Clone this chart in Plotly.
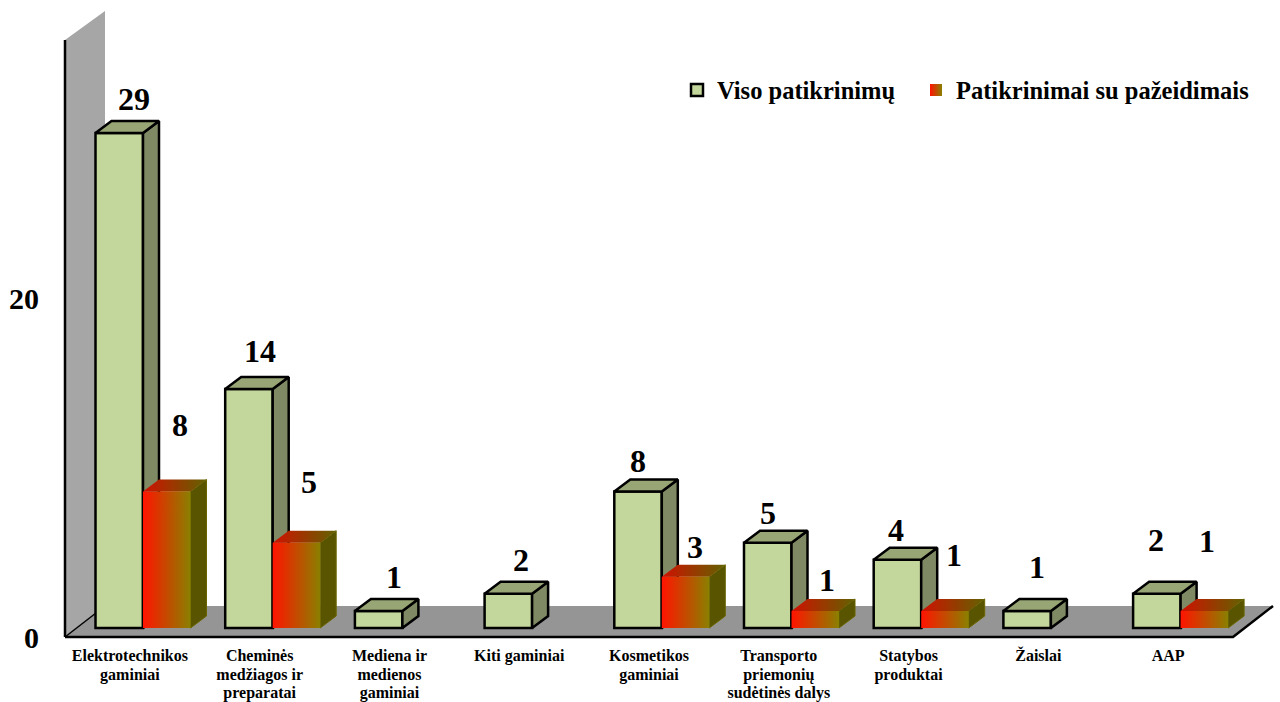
import plotly.graph_objects as go

categories = [["Elektrotechnikos", "gaminiai"], ["Cheminės", "medžiagos ir", "preparatai"],
              ["Mediena ir", "medienos", "gaminiai"], ["Kiti gaminiai"], ["Kosmetikos", "gaminiai"],
              ["Transporto", "priemonių", "sudėtinės dalys"], ["Statybos", "produktai"], ["Žaislai"], ["AAP"]]
total_checks = [29, 14, 1, 2, 8, 5, 4, 1, 2]
violations = [8, 5, None, None, 3, 1, 1, None, 1]
y_ticks = [0, 20]
name_total = "Viso patikrinimų"
name_viol = "Patikrinimai su pažeidimais"

# label nudges in pixels (hand-placed in the original)
total_nudge = [(15, 34), (11, 38), (15, 34), (13, 34), (0, 30), (0, 30), (-1, 30), (10, 44), (-1, 54)]
viol_nudge = [(13, 66), (13, 61), None, None, (9, 30), (12, 31), (9, 56), None, (3, 70)]

W, H = 1280, 702
FONT = "Liberation Serif"
# frame scale (x/y): the front plane of the box
FX0, FX1, FY0, FUY = 65.0, 1233.0, 637.0, 16.95
FUX = (FX1 - FX0) / len(categories)
# bar scale (x2/y2): the plane the bars stand on
BX0, BUX, BY0, BUY = 143.0, 129.7, 628.0, 17.07
BAR_SPAN = 95 / 129.7
BAR_W = BAR_SPAN / 2
DX, DY = 16 / BUX, 12 / BUY

GREEN, GREEN_SIDE, GREEN_TOP = "#C3D69B", "#7F8A64", "#98A574"
RED_L, RED_R = "#FF1400", "#8A8000"
TOP_L, TOP_R = "#D01000", "#626200"
RED_SIDE = "#585400"

fig = go.Figure()

# --- box frame on the primary axes ---
wall_top = (FY0 - 40) / FUY
dfx, dfy = 40 / FUX, 31 / FUY
xl, xr = -0.5, len(categories) - 0.5
line_w = dict(color="#000000", width=1.5)
fig.add_trace(go.Scatter(x=[xl, xl, xl + dfx, xl + dfx, xl], y=[0, wall_top, wall_top + 29 / FUY, dfy, 0],
                         mode="lines", fill="toself", fillcolor="#A6A6A6", line=dict(width=0),
                         showlegend=False, hoverinfo="skip"))
fig.add_trace(go.Scatter(x=[xl, xr, xr + dfx, xl + dfx, xl], y=[0, 0, dfy, dfy, 0],
                         mode="lines", fill="toself", fillcolor="#959595", line=dict(width=0),
                         showlegend=False, hoverinfo="skip"))
fig.add_trace(go.Scatter(x=[xl, xl + dfx], y=[0, dfy], mode="lines", line=line_w, showlegend=False, hoverinfo="skip"))
fig.add_trace(go.Scatter(x=[xl, xl, None, xl, xr, xr + dfx], y=[wall_top, 0, None, 0, 0, dfy], mode="lines",
                         line=dict(color="#000000", width=2.5), showlegend=False, hoverinfo="skip"))

# --- bars on the overlaying axes ---
xs = list(range(len(categories)))
fig.add_trace(go.Bar(x=xs, y=total_checks, name=name_total, xaxis="x2", yaxis="y2", legend="legend",
                     marker=dict(color=GREEN, line=dict(color="#000000", width=2.5))))
fig.add_trace(go.Bar(x=xs, y=violations, name=name_viol, xaxis="x2", yaxis="y2", showlegend=False,
                     marker=dict(color="#C54D00", line=dict(width=0))))


def poly(xv, yv, **kw):
    fig.add_trace(go.Scatter(x=xv, y=yv, mode="lines", fill="toself", xaxis="x2", yaxis="y2",
                             showlegend=False, hoverinfo="skip", **kw))


def grad(a, b):
    return dict(type="horizontal", colorscale=[[0, a], [1, b]])


blk = dict(color="#000000", width=2.5)
for i, v in enumerate(total_checks):
    x0, x1 = i - BAR_W, i
    poly([x1, x1 + DX, x1 + DX, x1, x1], [0, DY, v + DY, v, 0], fillcolor=GREEN_SIDE, line=blk)
    poly([x0, x1, x1 + DX, x0 + DX, x0], [v, v, v + DY, v + DY, v], fillcolor=GREEN_TOP, line=blk)
for i, v in enumerate(violations):
    if v is None:
        continue
    x0, x1 = i, i + BAR_W
    poly([x1, x1 + DX, x1 + DX, x1, x1], [0, DY, v + DY, v, 0], fillcolor=RED_SIDE, line=dict(color="#6B6500", width=1))
    poly([x0, x1, x1 + DX, x0 + DX, x0], [v, v, v + DY, v + DY, v], fillgradient=grad(TOP_L, TOP_R), line=dict(width=0))
    poly([x0, x1, x1, x0, x0], [0, 0, v, v, 0], fillgradient=grad(RED_L, RED_R), line=dict(width=0))

# legend swatch for the gradient series
fig.add_trace(go.Scatter(x=[None], y=[None], mode="markers", name=name_viol, xaxis="x2", yaxis="y2", legend="legend2",
                         marker=dict(symbol="square", size=12, color=RED_L, line=dict(width=0),
                                     gradient=dict(type="horizontal", color=RED_R))))

# --- value labels ---
ann = []
lab_font = dict(family=FONT, size=32, color="#000000")
for i, (v, n) in enumerate(zip(total_checks, total_nudge)):
    ann.append(dict(x=i - BAR_W / 2, y=v, xref="x2", yref="y2", text=f"<b>{v}</b>", showarrow=False,
                    font=lab_font, xshift=n[0], yshift=n[1]))
for i, (v, n) in enumerate(zip(violations, viol_nudge)):
    if v is None:
        continue
    ann.append(dict(x=i + BAR_W / 2, y=v, xref="x2", yref="y2", text=f"<b>{v}</b>", showarrow=False,
                    font=lab_font, xshift=n[0], yshift=n[1]))

# line height follows the tick font (14.6 -> 19 px); the glyphs are drawn at 16 px
tick_text = ["<br>".join(f'<span style="font-size:16px"><b>{ln}</b></span>' for ln in c) for c in categories]

leg_font = dict(family=FONT, size=24.5, color="#000000", weight="bold")
fig.update_layout(
    width=W, height=H, margin=dict(l=0, r=0, t=0, b=0, autoexpand=False), paper_bgcolor="#FFFFFF", plot_bgcolor="rgba(0,0,0,0)",
    barmode="group", bargap=1 - BAR_SPAN, bargroupgap=0, annotations=ann,
    hovermode=False,
    legend=dict(x=677 / W, y=(H - 90) / H, xanchor="left", yanchor="middle",
                bgcolor="rgba(0,0,0,0)", font=leg_font),
    legend2=dict(x=916 / W, y=(H - 90) / H, xanchor="left", yanchor="middle",
                 bgcolor="rgba(0,0,0,0)", font=leg_font),
    xaxis=dict(domain=[0, 1], range=[(0 - FX0) / FUX - 0.5, (W - FX0) / FUX - 0.5], anchor="free", position=(H - FY0) / H,
               tickmode="array", tickvals=xs, ticktext=tick_text,
               tickfont=dict(family=FONT, size=14.6, color="#000000"), ticks="outside", ticklen=5,
               tickcolor="rgba(0,0,0,0)", tickangle=0, showgrid=False, zeroline=False, showline=False),
    yaxis=dict(domain=[0, 1], range=[(FY0 - H) / FUY, FY0 / FUY], anchor="free", position=FX0 / W,
               tickmode="array", tickvals=y_ticks, ticktext=[f"<b>{t}</b>" for t in y_ticks],
               tickfont=dict(family=FONT, size=30, color="#000000"), ticks="outside", ticklen=20,
               tickcolor="rgba(0,0,0,0)", showgrid=False, zeroline=False, showline=False),
    xaxis2=dict(overlaying="x", range=[(0 - BX0) / BUX, (W - BX0) / BUX], visible=False, anchor="y2"),
    yaxis2=dict(overlaying="y", range=[(BY0 - H) / BUY, BY0 / BUY], visible=False, anchor="x2"),
)

fig.write_html("out.html", config=dict(displayModeBar=False), post_script="document.body.style.margin='0';")
